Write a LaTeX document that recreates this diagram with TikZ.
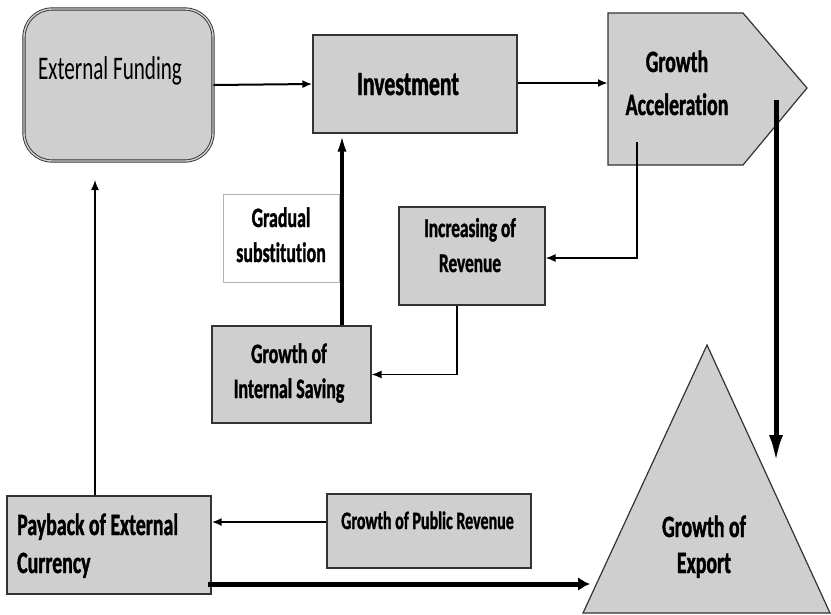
\documentclass[tikz,border=0pt]{standalone}
\usepackage{fontspec}
\setmainfont{Carlito}[FakeStretch=0.64, Ligatures=NoCommon, BoldFeatures={FakeBold=1.2}]
\usetikzlibrary{calc,arrows.meta}

\definecolor{boxgray}{RGB}{207,207,207}
\tikzset{
    box/.style={draw=black!80, fill=boxgray, line width=1.2pt, inner sep=0pt},
    lbl/.style={align=center, anchor=base, inner sep=0pt},
    link/.style={line width=1.4pt, -{Latex[length=10pt,width=8pt]}},
    flow/.style={line width=5pt, -{Latex[length=12pt,width=14pt]}}
}

\begin{document}
\begin{tikzpicture}[x=1pt,y=-1pt]
    \useasboundingbox (0,0) rectangle (831,614);

    % boxes
    \node[box, rounded corners=28pt, double=boxgray, double distance=1.4pt, line width=0.9pt,
          minimum width=189pt, minimum height=152pt] (ext) at (118.5,85) {};
    \node[box, minimum width=204pt, minimum height=98pt] (inv) at (415,84) {};
    \node[box, minimum width=146pt, minimum height=98pt] (rev) at (472,256) {};
    \node[draw=black!30, line width=0.8pt, minimum width=116pt, minimum height=88pt] (sub) at (281,238) {};
    \node[box, minimum width=159pt, minimum height=97pt] (sav) at (291.5,374.5) {};
    \node[box, minimum width=204pt, minimum height=98pt] (pay) at (109,545) {};
    \node[box, minimum width=204pt, minimum height=74pt] (pub) at (429,531) {};

    % growth acceleration and export shapes
    \draw[box] (608,13) -- (743,13) -- (807,88) -- (743,165) -- (608,165) -- cycle;
    \draw[box] (707,345) -- (830,613) -- (583,613) -- cycle;

    % texts (base = last line)
    \node[lbl, font=\fontsize{33}{40}\selectfont] (ext-t) at (110,79) {External Funding};
    \node[lbl, font=\bfseries\fontsize{34}{41}\selectfont] (inv-t) at (408,95) {Investment};
    \node[lbl, font=\bfseries\fontsize{31}{43}\selectfont] (acc-t) at (677,115) {Growth\\Acceleration};
    \node[lbl, font=\bfseries\fontsize{27}{35}\selectfont] (rev-t) at (470,272) {Increasing of\\Revenue};
    \node[lbl, font=\bfseries\fontsize{28}{35}\selectfont] (sub-t) at (281,262) {Gradual\\substitution};
    \node[lbl, font=\bfseries\fontsize{28}{35}\selectfont] (sav-t) at (289,398) {Growth of\\Internal Saving};
    \node[lbl, align=left, anchor=base west, font=\bfseries\fontsize{31}{38}\selectfont] (pay-t) at (17,573) {Payback of External\\Currency};
    \node[lbl, font=\bfseries\fontsize{25}{30}\selectfont] (pub-t) at (427.5,529) {Growth of Public Revenue};
    \node[lbl, font=\bfseries\fontsize{31}{36}\selectfont] (exp-t) at (704,573) {Growth of\\Export};

    % free ends
    \coordinate (acc-foot) at (637,142);
    \coordinate (acc-tail) at (776,100);
    \coordinate (exp-top) at (776,463);
    \coordinate (exp-left) at (590,584);
    \coordinate (ext-below) at (95,180);

    % connectors
    \draw[link, line width=2pt] (ext.east) -- (inv.west);
    \draw[link, line width=2pt] ([yshift=1pt]inv.east) -- ([yshift=1pt]inv.east -| 608,0);
    \draw[link] (acc-foot) |- ([yshift=-2pt]rev.east);
    \draw[flow, -{Latex[length=28pt,width=14pt]}] (acc-tail) -- (exp-top);
    \draw[link] ([xshift=-15pt]rev.south) |- (sav.east);
    \draw[link, line width=3.5pt, -{Latex[length=18pt,width=9pt]}] ([xshift=50.5pt]sav.north) -- ([xshift=50.5pt]sav.north |- inv.south);
    \draw[link] ([xshift=-14pt]pay.north) -- (ext-below);
    \draw[link, line width=2pt] ([yshift=9pt]pub.west) -- ([yshift=9pt]pub.west -| pay.east);
    \draw[flow] ([xshift=-4pt,yshift=-39pt]pay.east) -- (exp-left);
\end{tikzpicture}
\end{document}
